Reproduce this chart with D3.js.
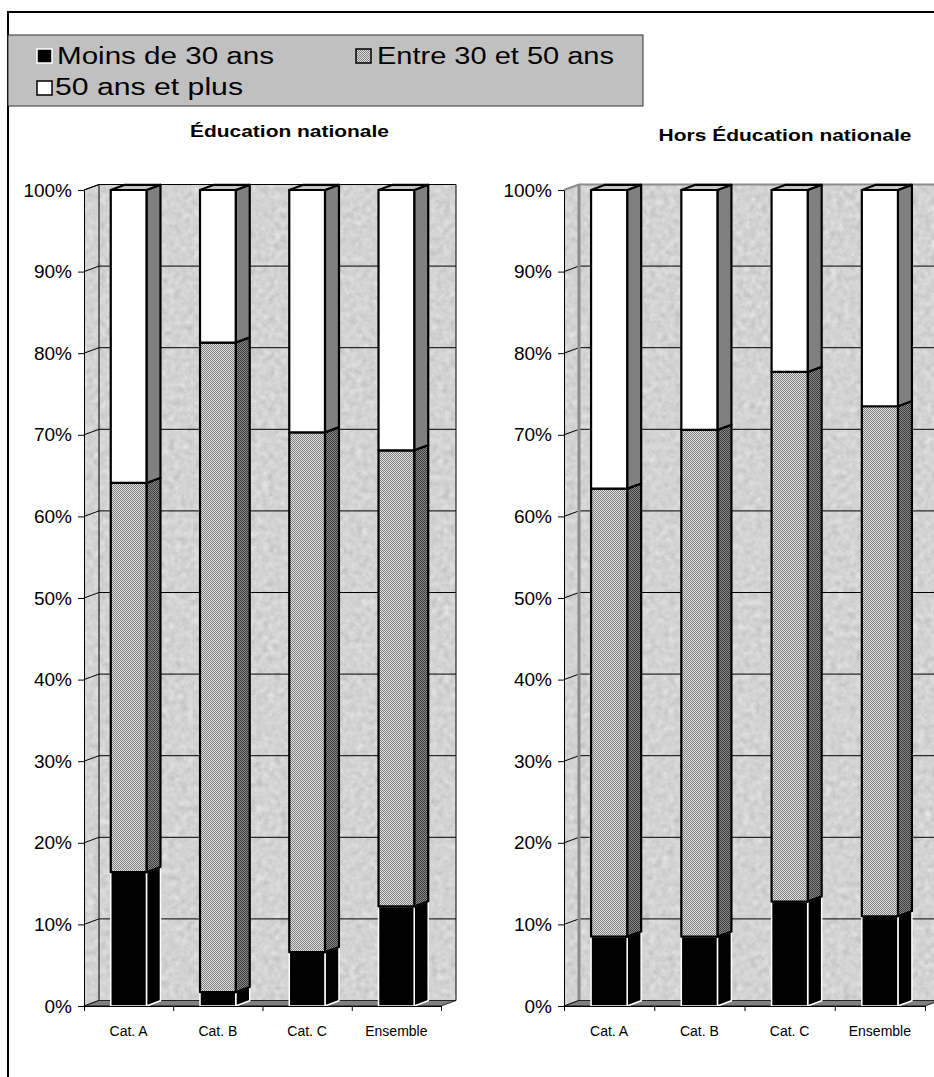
<!DOCTYPE html>
<html>
<head>
<meta charset="utf-8">
<script src="https://cdn.jsdelivr.net/npm/d3@7/dist/d3.min.js"></script>
<style>
  html, body { margin: 0; padding: 0; background: #fff; }
  svg { display: block; font-family: "Liberation Sans", Arial, sans-serif; }
</style>
</head>
<body>
<svg id="chart" width="934" height="1077"></svg>
<script>
// Age structure of staff, by category (percent of each category)
const categories = ["Cat. A", "Cat. B", "Cat. C", "Ensemble"];
const seriesNames = ["Moins de 30 ans", "Entre 30 et 50 ans", "50 ans et plus"];
const yTicks = [0, 10, 20, 30, 40, 50, 60, 70, 80, 90, 100];

// Éducation nationale
const eduMoins30 = [16.4, 1.7, 6.6, 12.2];
const eduEntre30et50 = [47.7, 79.6, 63.7, 55.9];
const edu50plus = [35.9, 18.7, 29.7, 31.9];

// Hors Éducation nationale
const horsMoins30 = [8.5, 8.5, 12.8, 11.0];
const horsEntre30et50 = [54.9, 62.1, 64.9, 62.5];
const hors50plus = [36.6, 29.4, 22.3, 26.5];

const FONT = "'Liberation Sans', Arial, sans-serif";
const svg = d3.select("#chart");
const defs = svg.append("defs");

// mottled light-grey texture of the chart walls
const grain = defs.append("filter").attr("id", "grain")
  .attr("x", 0).attr("y", 0).attr("width", 1).attr("height", 1)
  .attr("color-interpolation-filters", "sRGB");
grain.append("feTurbulence").attr("type", "fractalNoise")
  .attr("baseFrequency", "0.16").attr("numOctaves", 3).attr("seed", 7).attr("result", "noise");
grain.append("feColorMatrix").attr("in", "noise").attr("type", "matrix")
  .attr("values", "0.33 0.33 0.33 0 0  0.33 0.33 0.33 0 0  0.33 0.33 0.33 0 0  0 0 0 0 1")
  .attr("result", "gray");
const ct = grain.append("feComponentTransfer").attr("in", "gray").attr("result", "tone");
["feFuncR", "feFuncG", "feFuncB"].forEach(f =>
  ct.append(f).attr("type", "linear").attr("slope", 0.3).attr("intercept", 0.68));
grain.append("feComposite").attr("in", "tone").attr("in2", "SourceGraphic").attr("operator", "in");

// dotted fills for the middle age band
function checker(id, light, dark) {
  const p = defs.append("pattern").attr("id", id).attr("patternUnits", "userSpaceOnUse")
    .attr("width", 2).attr("height", 2);
  p.append("rect").attr("width", 2).attr("height", 2).attr("fill", light);
  p.append("rect").attr("x", 0).attr("y", 0).attr("width", 1).attr("height", 1).attr("fill", dark);
  p.append("rect").attr("x", 1).attr("y", 1).attr("width", 1).attr("height", 1).attr("fill", dark);
}
checker("entreFront", "#e2e2e2", "#7e7e7e");
checker("entreSide", "#8a8a8a", "#3a3a3a");

const seriesStyle = [
  { front: "#000", side: "#000", top: "#000", stroke: "#fff", sw: 1.5 },
  { front: "url(#entreFront)", side: "url(#entreSide)", top: "#999", stroke: "#000", sw: 2.2 },
  { front: "#fff", side: "#808080", top: "#c4c4c4", stroke: "#000", sw: 2.2 }
];

// outer frame
svg.append("rect").attr("x", 8).attr("y", 12).attr("width", 1000).attr("height", 1100)
  .attr("fill", "none").attr("stroke", "#000").attr("stroke-width", 2);

// legend
const lg = svg.append("g");
lg.append("rect").attr("x", 8).attr("y", 35).attr("width", 635).attr("height", 71)
  .attr("fill", "#c0c0c0").attr("stroke", "#333").attr("stroke-width", 1);
const legendItems = [
  { sx: 37, sy: 49, tx: 57, ty: 64, len: 217 },
  { sx: 356, sy: 49, tx: 377, ty: 64, len: 237 },
  { sx: 37, sy: 81, tx: 55, ty: 95, len: 188 }
];
seriesNames.forEach((name, i) => {
  const it = legendItems[i], st = seriesStyle[i];
  lg.append("rect").attr("x", it.sx).attr("y", it.sy).attr("width", 15).attr("height", 14)
    .attr("fill", st.front).attr("stroke", i === 0 ? "#fff" : "#000").attr("stroke-width", 1.5);
  lg.append("text").attr("x", it.tx).attr("y", it.ty).attr("font-size", 23)
    .attr("font-family", FONT)
    .attr("textLength", it.len).attr("lengthAdjust", "spacingAndGlyphs").text(name);
});

const wallDx = 15, wallDy = 5.5;
const barDx = 14, barDy = 5.2;

function drawPanel(p) {
  const g = svg.append("g");
  const x = d3.scaleBand().domain(categories).range([p.left, p.right])
    .paddingInner(0.6).paddingOuter(0.3);
  const y = d3.scaleLinear().domain([0, 100]).range([1006, 190]);
  const y0 = y(0), y1 = y(100);
  const L = p.left, R = p.right;

  // title
  g.append("text").attr("x", p.titleX - p.titleLen / 2).attr("y", p.titleY)
    .attr("font-size", 16.5).attr("font-weight", "bold").attr("font-family", FONT)
    .attr("textLength", p.titleLen).attr("lengthAdjust", "spacingAndGlyphs").text(p.title);

  // side wall and back wall
  g.append("path")
    .attr("d", `M${L},${y0}L${L},${y1}L${L + wallDx},${y1 - wallDy}L${L + wallDx},${y0 - wallDy}Z`)
    .attr("fill", "#ccc").attr("filter", "url(#grain)");
  g.append("rect").attr("x", L + wallDx).attr("y", y1 - wallDy)
    .attr("width", R - L).attr("height", y0 - y1)
    .attr("fill", "#ccc").attr("filter", "url(#grain)");

  // gridlines across the back wall, continued along the side wall
  yTicks.filter(t => t > 0 && t < 100).forEach(t => {
    g.append("line").attr("x1", L + wallDx).attr("x2", R + wallDx)
      .attr("y1", y(t) - wallDy).attr("y2", y(t) - wallDy)
      .attr("stroke", "#000").attr("stroke-width", 1);
  });
  yTicks.forEach(t => {
    g.append("line").attr("x1", L).attr("y1", y(t)).attr("x2", L + wallDx).attr("y2", y(t) - wallDy)
      .attr("stroke", "#000").attr("stroke-width", 1);
  });

  // wall edges
  const edge = g.append("g").attr("fill", "none").attr("stroke", p.edge);
  edge.append("path").attr("d", `M${L},${y1}L${L + wallDx},${y1 - wallDy}L${R + wallDx},${y1 - wallDy}L${R + wallDx},${y0 - wallDy}`)
    .attr("stroke-width", p.edgeW);
  edge.append("line").attr("x1", L + wallDx).attr("x2", L + wallDx)
    .attr("y1", y1 - wallDy).attr("y2", y0 - wallDy).attr("stroke-width", p.innerEdgeW);

  // floor
  g.append("path")
    .attr("d", `M${L},${y0}L${R},${y0}L${R + wallDx},${y0 - wallDy}L${L + wallDx},${y0 - wallDy}Z`)
    .attr("fill", "#808080").attr("stroke", "#000").attr("stroke-width", 0.8);

  // stacked 3D bars
  const rows = categories.map((c, i) => ({
    cat: c,
    [seriesNames[0]]: p.values[0][i],
    [seriesNames[1]]: p.values[1][i],
    [seriesNames[2]]: p.values[2][i]
  }));
  const stacked = d3.stack().keys(seriesNames)(rows);
  const bw = x.bandwidth();
  categories.forEach((c, ci) => {
    stacked.forEach((layer, si) => {
      const d = layer[ci];
      const st = seriesStyle[si];
      const xa = x(c), xb = xa + bw;
      const yt = y(d[1]), yb = y(d[0]);
      const bg = g.append("g").attr("stroke", st.stroke).attr("stroke-width", st.sw)
        .attr("stroke-linejoin", "round");
      bg.append("path")
        .attr("d", `M${xb},${yb}L${xb},${yt}L${xb + barDx},${yt - barDy}L${xb + barDx},${yb - barDy}Z`)
        .attr("fill", st.side);
      bg.append("rect").attr("x", xa).attr("y", yt).attr("width", bw).attr("height", yb - yt)
        .attr("fill", st.front);
      if (si === stacked.length - 1) {
        bg.append("path")
          .attr("d", `M${xa},${yt}L${xb},${yt}L${xb + barDx},${yt - barDy}L${xa + barDx},${yt - barDy}Z`)
          .attr("fill", st.top);
      }
    });
  });

  // value axis
  const yAxis = d3.axisLeft(y).tickValues(yTicks).tickFormat(d => d + "%")
    .tickSize(6).tickSizeOuter(0).tickPadding(6);
  const ya = g.append("g").attr("transform", `translate(${L},0)`).call(yAxis)
    .attr("font-family", FONT);
  ya.selectAll("text").attr("font-size", 19).attr("fill", "#000");
  ya.selectAll("line, path").attr("stroke", "#000");

  // category axis: ticks at band boundaries, labels centred in each band
  const edges = d3.scaleLinear().domain([0, categories.length]).range([L, R]);
  const xa = g.append("g").attr("transform", `translate(0,${y0})`)
    .call(d3.axisBottom(edges).tickValues(d3.range(categories.length + 1))
      .tickFormat("").tickSize(5).tickSizeOuter(0));
  xa.selectAll("line, path").attr("stroke", "#000");
  categories.forEach(c => {
    g.append("text").attr("x", x(c) + bw / 2).attr("y", 1036)
      .attr("text-anchor", "middle").attr("font-size", 14).attr("font-family", FONT).text(c);
  });
}

drawPanel({
  title: "Éducation nationale", titleX: 289.5, titleY: 137, titleLen: 199,
  left: 84, right: 441, edge: "#000", edgeW: 1, innerEdgeW: 1,
  values: [eduMoins30, eduEntre30et50, edu50plus]
});
drawPanel({
  title: "Hors Éducation nationale", titleX: 785, titleY: 141, titleLen: 253,
  left: 564, right: 925, edge: "#8c8c8c", edgeW: 2, innerEdgeW: 3,
  values: [horsMoins30, horsEntre30et50, hors50plus]
});
</script>
</body>
</html>
